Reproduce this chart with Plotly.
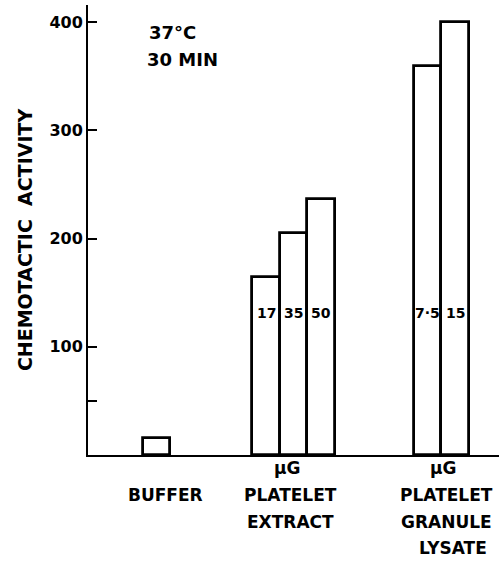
import plotly.graph_objects as go

# ---- data ----
groups = ["BUFFER", "PLATELET EXTRACT", "PLATELET GRANULE LYSATE"]
doses = [[""], ["17", "35", "50"], ["7·5", "15"]]
activity = [[16], [165, 205, 237], [360, 400]]
group_labels = [["BUFFER"], ["µG", "PLATELET", "EXTRACT"], ["µG", "PLATELET", "GRANULE", "LYSATE"]]
y_ticks = [50, 100, 200, 300, 400]
y_tick_text = ["", "100", "200", "300", "400"]

# ---- layout constants ----
group_start = [2, 6, 11.9]        # first slot of each group
label_x = [2.33, 6.9, 12.6]       # centre of group label block
row_py = [468, 495, 522, 548]     # pixel rows of label lines
FONT = "DejaVu Sans"
PLOT_TOP, PLOT_BOTTOM = 5, 455

def paper_y(py):
    return (PLOT_BOTTOM - py) / (PLOT_BOTTOM - PLOT_TOP)

xs, ys = [], []
for g, vals in enumerate(activity):
    for j, v in enumerate(vals):
        xs.append(group_start[g] + j)
        ys.append(v)

fig = go.Figure()
fig.add_trace(go.Bar(
    x=xs, y=ys, width=1.0,
    marker=dict(color="white", line=dict(color="black", width=2.8)),
    showlegend=False, hoverinfo="skip",
))

ann = []
# dose labels inside bars
for g, ds in enumerate(doses):
    for j, d in enumerate(ds):
        if d:
            ann.append(dict(x=group_start[g] + j, y=paper_y(313), xref="x", yref="paper",
                            xanchor="center", yanchor="middle", text=f"<b>{d}</b>",
                            showarrow=False, font=dict(family=FONT, size=14, color="black")))
# group labels below axis
for g, lines in enumerate(group_labels):
    rows = row_py[1:2] if len(lines) == 1 else row_py[:len(lines)]
    for k, line in enumerate(lines):
        dx = 0
        if line == "µG":
            dx = -0.15
        if line == "LYSATE":
            dx = 0.22
        ann.append(dict(x=label_x[g] + dx, y=paper_y(rows[k]), xref="x", yref="paper",
                        xanchor="center", yanchor="middle", text=f"<b>{line}</b>",
                        showarrow=False, font=dict(family=FONT, size=17, color="black")))
# condition text
ann.append(dict(x=0.143, y=paper_y(32), xref="paper", yref="paper", xanchor="left", yanchor="middle",
                text="<b>37°C</b>", showarrow=False, font=dict(family=FONT, size=18, color="black")))
ann.append(dict(x=0.138, y=paper_y(59), xref="paper", yref="paper", xanchor="left", yanchor="middle",
                text="<b>30 MIN</b>", showarrow=False, font=dict(family=FONT, size=18, color="black")))
# y title
ann.append(dict(x=-0.153, y=paper_y(240), xref="paper", yref="paper", xanchor="center", yanchor="middle",
                text="<b>CHEMOTACTIC  ACTIVITY</b>", textangle=-90, showarrow=False,
                font=dict(family=FONT, size=19, color="black")))

fig.update_layout(
    width=499, height=561,
    margin=dict(l=88, r=0, t=PLOT_TOP, b=561 - PLOT_BOTTOM),
    paper_bgcolor="white", plot_bgcolor="white",
    bargap=0,
    annotations=ann,
    xaxis=dict(range=[-0.5, 14.5], showline=True, linecolor="black", linewidth=2,
               showticklabels=False, ticks="", showgrid=False, zeroline=False, fixedrange=True),
    yaxis=dict(range=[0, 416], showline=True, linecolor="black", linewidth=2,
               tickvals=y_ticks, ticktext=[f"<b>{t}</b>" for t in y_tick_text], ticks="inside",
               ticklen=9, tickwidth=2,
               tickcolor="black", tickfont=dict(family=FONT, size=16, color="black"),
               showgrid=False, zeroline=False, fixedrange=True),
)

fig.write_html("out.html", config={"displayModeBar": False},
               post_script="document.body.style.margin='0';")
